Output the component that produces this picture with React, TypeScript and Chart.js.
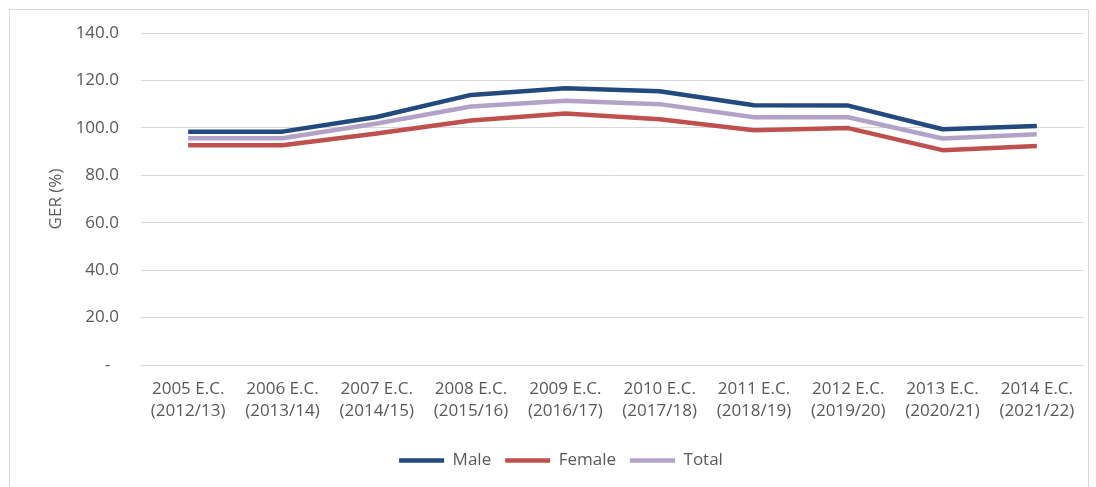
import React, { useEffect, useRef } from "react";
import { Chart, registerables } from "chart.js";

Chart.register(...registerables);

const categories: string[][] = [
  ["2005 E.C.", "(2012/13)"],
  ["2006 E.C.", "(2013/14)"],
  ["2007 E.C.", "(2014/15)"],
  ["2008 E.C.", "(2015/16)"],
  ["2009 E.C.", "(2016/17)"],
  ["2010 E.C.", "(2017/18)"],
  ["2011 E.C.", "(2018/19)"],
  ["2012 E.C.", "(2019/20)"],
  ["2013 E.C.", "(2020/21)"],
  ["2014 E.C.", "(2021/22)"],
];

const maleValues = [98.4, 98.4, 104.6, 113.9, 116.7, 115.4, 109.5, 109.4, 99.4, 100.8];
const femaleValues = [92.7, 92.7, 97.6, 103.1, 106.1, 103.6, 99.0, 99.9, 90.6, 92.3];
const totalValues = [95.6, 95.6, 101.8, 109.0, 111.4, 110.0, 104.5, 104.5, 95.5, 97.3];

const seriesNames = ["Male", "Female", "Total"];
const yAxisTitle = "GER (%)";

const FONT = "'Open Sans', 'Noto Sans', sans-serif";
const TEXT = "#595959";

export default function App() {
  const ref = useRef<HTMLCanvasElement | null>(null);

  useEffect(() => {
    if (!ref.current) return;
    const chart = new Chart(ref.current, {
      type: "line",
      data: {
        labels: categories,
        datasets: [
          { label: seriesNames[0], data: maleValues, borderColor: "#234A7E", backgroundColor: "#234A7E" },
          { label: seriesNames[1], data: femaleValues, borderColor: "#C0504D", backgroundColor: "#C0504D" },
          { label: seriesNames[2], data: totalValues, borderColor: "#B3A2C7", backgroundColor: "#B3A2C7" },
        ].map((d) => ({
          ...d,
          borderWidth: 4.5,
          pointRadius: 0,
          pointHoverRadius: 0,
          tension: 0,
          fill: false,
          borderJoinStyle: "round" as const,
        })),
      },
      options: {
        responsive: false,
        animation: false,
        events: [],
        layout: { padding: { left: 38, right: 12, top: 33, bottom: 8 } },
        plugins: {
          tooltip: { enabled: false },
          legend: {
            position: "bottom",
            labels: {
              usePointStyle: true,
              pointStyle: "line",
              pointStyleWidth: 45,
              color: TEXT,
              font: { family: FONT, size: 17 },
              padding: 14,
            },
          },
        },
        scales: {
          x: {
            offset: true,
            grid: { display: false, drawTicks: false },
            border: { display: false },
            ticks: {
              color: TEXT,
              font: { family: FONT, size: 17, lineHeight: 1.25 },
              padding: 14,
              maxRotation: 0,
              autoSkip: false,
            },
            afterFit: (scale: any) => {
              scale.height = 73;
            },
          },
          y: {
            min: 0,
            max: 140,
            grid: { color: "#D9D9D9", lineWidth: 1, drawTicks: false },
            border: { display: false },
            ticks: {
              stepSize: 20,
              color: TEXT,
              font: { family: FONT, size: 17 },
              padding: 22,
              callback: (v: any) => (Number(v) === 0 ? "-  " : Number(v).toFixed(1)),
            },
            title: {
              display: true,
              text: yAxisTitle,
              color: TEXT,
              font: { family: FONT, size: 17 },
              padding: { top: 8, bottom: 0 },
            },
            afterFit: (scale: any) => {
              scale.width = 103;
            },
          },
        },
      },
    });
    return () => chart.destroy();
  }, []);

  return (
    <div style={{ position: "fixed", left: 0, top: 0, width: 1096, height: 487, background: "#fff" }}>
      <div
        style={{
          position: "absolute",
          left: 9,
          top: 9,
          width: 1080,
          height: 490,
          border: "1px solid #D9D9D9",
          boxSizing: "border-box",
        }}
      />
      <canvas ref={ref} width={1096} height={487} style={{ position: "absolute", left: 0, top: 0 }} />
    </div>
  );
}
